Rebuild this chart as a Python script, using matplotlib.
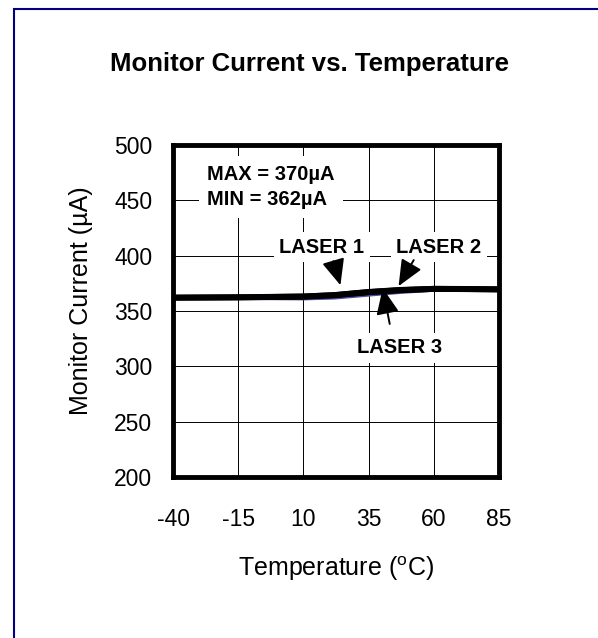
import matplotlib
matplotlib.use('Agg')
import matplotlib.pyplot as plt
from matplotlib.patches import Rectangle

# temperature (C) and monitor current (uA)
temp = [-40, -15, 10, 22, 35, 47, 60, 72, 85]
laser1 = [362.0, 362.3, 363.0, 364.3, 367.0, 368.8, 370.0, 369.8, 369.5]
laser2 = [362.1, 362.4, 363.1, 364.4, 367.2, 369.0, 370.0, 369.9, 369.6]
laser3 = [361.6, 361.6, 361.2, 362.0, 364.6, 367.0, 369.0, 369.3, 369.2]

xticks = [-40, -15, 10, 35, 60, 85]
yticks = [200, 250, 300, 350, 400, 450, 500]

plt.rcParams['font.family'] = ['Liberation Sans', 'DejaVu Sans']
plt.rcParams['axes.unicode_minus'] = False

fig = plt.figure(figsize=(5.98, 6.38), dpi=100)
ax = fig.add_axes([173 / 598, 1 - 477 / 638, 326 / 598, 332 / 638])

# outer navy frame, right/bottom edges run off the page
fig.patches.append(Rectangle((14 / 598, -0.1), 1.2, 1 - 9.5 / 638 + 0.1,
                             transform=fig.transFigure, fill=False,
                             edgecolor='#000080', linewidth=1.5))

ax.plot(temp, laser3, color='#4b4ba8', linewidth=2.6, zorder=3)
ax.plot(temp, laser1, color='black', linewidth=4.3, zorder=4)
ax.plot(temp, laser2, color='black', linewidth=4.3, zorder=4)

ax.set_xlim(-40, 85)
ax.set_ylim(200, 500)
ax.set_xticks(xticks)
ax.set_yticks(yticks)
ax.tick_params(length=0, labelsize=16.5)
ax.tick_params(axis='x', pad=22)
ax.tick_params(axis='y', pad=15)
ax.grid(True, color='black', linewidth=0.7)
for s in ax.spines.values():
    s.set_linewidth(3.5)

ax.set_xlabel('Temperature ($^{\\mathregular{o}}$C)', fontsize=18)
ax.xaxis.set_label_coords(0.5, -0.232)
ax.set_ylabel('Monitor Current (\u00b5A)', fontsize=18)
ax.yaxis.set_label_coords(-0.245, 0.53)

fig.text(310 / 598, 1 - 71 / 638, 'Monitor Current vs. Temperature',
         fontsize=18.5, fontweight='bold', ha='center', va='baseline')

box = dict(facecolor='white', edgecolor='none', pad=6)
ax.text(-27, 462, 'MAX = 370\u00b5A\nMIN = 362\u00b5A', fontsize=14.5,
        fontweight='bold', va='center', ha='left', linespacing=1.45,
        bbox=box, zorder=5)
ax.text(17.1, 407.8, 'LASER 1', fontsize=14.5, fontweight='bold',
        ha='center', va='center', bbox=dict(box, pad=4), zorder=5)
ax.text(62.0, 407.8, 'LASER 2', fontsize=14.5, fontweight='bold',
        ha='center', va='center', bbox=dict(box, pad=4), zorder=5)
ax.text(47.0, 316.6, 'LASER 3', fontsize=14.5, fontweight='bold',
        ha='center', va='center', bbox=dict(box, pad=4), zorder=5)

arrow = dict(arrowstyle='-|>,head_length=1.6,head_width=0.7',
             color='black', linewidth=1.4, shrinkA=0, shrinkB=0)
ax.annotate('', xy=(24.2, 373.3), xytext=(21.5, 395), arrowprops=arrow,
            zorder=6)
ax.annotate('', xy=(46.5, 372.5), xytext=(52.3, 396), arrowprops=arrow,
            zorder=6)
ax.annotate('', xy=(40.4, 370.7), xytext=(43.1, 338.3), arrowprops=arrow,
            zorder=6)

fig.savefig('out.png', dpi=100)
